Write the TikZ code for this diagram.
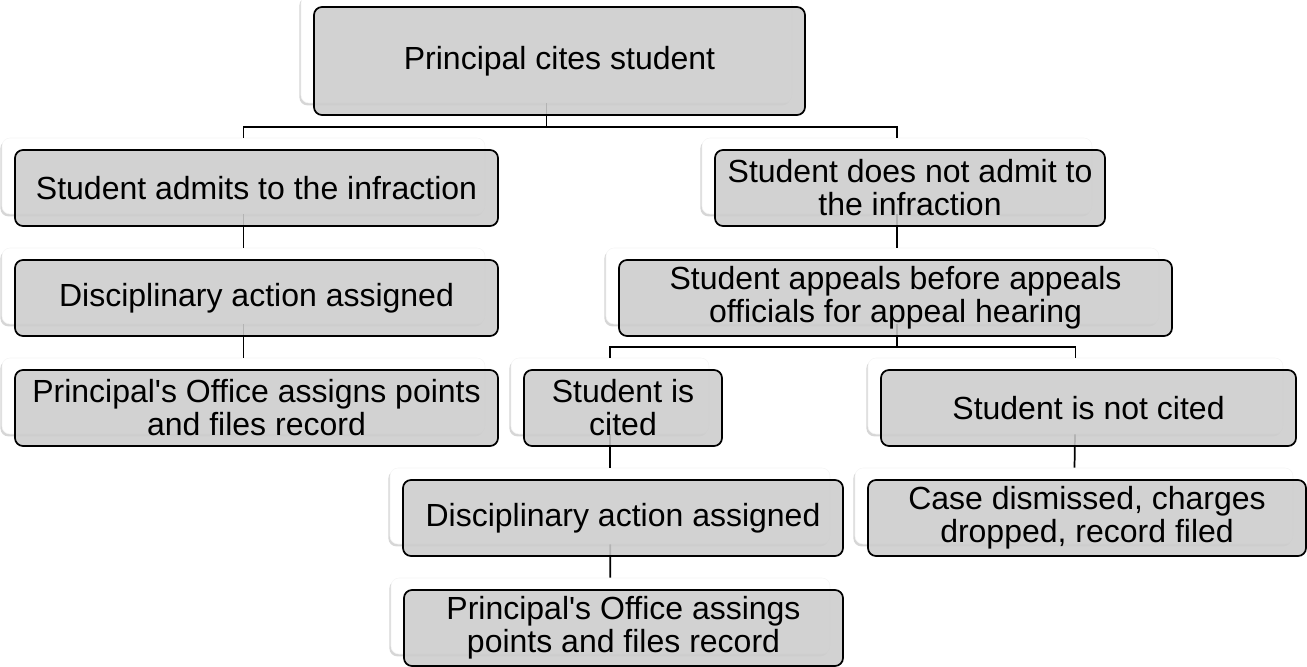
\documentclass[tikz,border=0pt]{standalone}
\usepackage{fontspec}
\newfontfamily\cardfont{Liberation Sans}
\usetikzlibrary{shadows}
\definecolor{cardgray}{RGB}{204,204,204}

\begin{document}
\begin{tikzpicture}[x=0.75pt,y=-0.75pt,
    size/.style 2 args={minimum width=#1*0.75pt,minimum height=#2*0.75pt},
    back node/.style={rounded corners=6pt,fill=white,draw=black!4,inner sep=0pt,
      general shadow={shadow xshift=-1.2pt,shadow yshift=-1.8pt,fill=black,opacity=0.16}},
    card/.style={draw=black,line width=1.3pt,rounded corners=6pt,fill=cardgray,
      fill opacity=0.88,text opacity=1,align=center,inner sep=0pt,
      font=\cardfont\fontsize{24}{24.8}\selectfont},
    front/.style={xshift=9.75pt,yshift=-9pt},
    link/.style={line width=1.3pt}]
  \useasboundingbox (0,0) rectangle (1307,667);
  % white panels behind the cards
  \node[back node,size={491}{108}] (w1) at (546.5,49) {};
  \node[back node,size={483}{76}] (w2) at (243.5,176) {};
  \node[back node,size={390}{76}] (w3) at (897,176) {};
  \node[back node,size={483}{76}] (w4) at (243.5,286) {};
  \node[back node,size={553}{76}] (w5) at (882.5,286) {};
  \node[back node,size={483}{76}] (w6) at (243.5,396) {};
  \node[back node,size={198}{76}] (w7) at (610,396) {};
  \node[back node,size={415}{76}] (w8) at (1075.5,396) {};
  \node[back node,size={440}{76}] (w9) at (610,506) {};
  \node[back node,size={438}{76}] (w10) at (1074,506) {};
  \node[back node,size={439}{76}] (w11) at (610.5,616) {};
  % connectors
  \draw[link] (w2.north) -- ++(0,-11) -| (w1.south);
  \draw[link] (w3.north) -- ++(0,-11) -| (w1.south);
  \draw[link] (w2) -- (w4);
  \draw[link] (w4) -- (w6);
  \draw[link] (w3.south) -- (w3.south |- w5.north);
  \draw[link] (w7.north) -- ++(0,-11) -| (w5.south -| w3.south);
  \draw[link] (w8.north) -- ++(0,-11) -| (w5.south -| w3.south);
  \draw[link] (w7) -- (w9);
  \draw[link] (w9) -- (w11);
  \draw[link] (w8) -- (w10);
  % cards
  \node[card,size={491}{108},front] (g1) at (w1) {Principal cites student};
  \node[card,size={483}{76},front] (g2) at (w2) {Student admits to the infraction};
  \node[card,size={390}{76},front] (g3) at (w3) {Student does not admit to\\the infraction};
  \node[card,size={483}{76},front] (g4) at (w4) {Disciplinary action assigned};
  \node[card,size={553}{76},front] (g5) at (w5) {Student appeals before appeals\\officials for appeal hearing};
  \node[card,size={483}{76},front] (g6) at (w6) {Principal's Office assigns points\\and files record};
  \node[card,size={198}{76},front] (g7) at (w7) {Student is\\cited};
  \node[card,size={415}{76},front] (g8) at (w8) {Student is not cited};
  \node[card,size={440}{76},front] (g9) at (w9) {Disciplinary action assigned};
  \node[card,size={438}{76},front] (g10) at (w10) {Case dismissed, charges\\dropped, record filed};
  \node[card,size={439}{76},front] (g11) at (w11) {Principal's Office assings\\points and files record};
\end{tikzpicture}
\end{document}
